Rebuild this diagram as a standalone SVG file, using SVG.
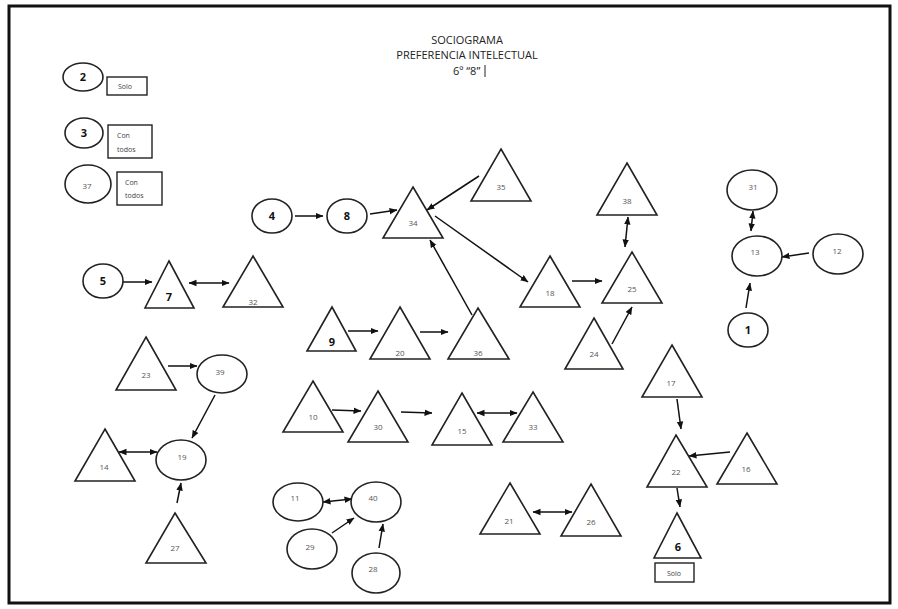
<svg xmlns="http://www.w3.org/2000/svg" width="898" height="609" viewBox="0 0 898 609">
<defs>
<marker id="ah" markerUnits="userSpaceOnUse" markerWidth="8" markerHeight="8" viewBox="0 0 8 8" refX="7.5" refY="4" orient="auto-start-reverse">
<path d="M0,0.8 L8,4 L0,7.2 Z" fill="#111"/>
</marker>
</defs>
<style>
.n{fill:#fff;stroke:#222;stroke-width:1.6}
.b{fill:#fff;stroke:#222;stroke-width:1.4}
.t{font-family:"Open Sans","Liberation Sans",sans-serif;font-size:8px;fill:#555;text-anchor:middle}
.tb{font-family:"Open Sans","Liberation Sans",sans-serif;font-size:11px;font-weight:bold;fill:#111;text-anchor:middle}
.tl{font-family:"Open Sans","Liberation Sans",sans-serif;font-size:7px;fill:#444}
.title{font-family:"Open Sans","Liberation Sans",sans-serif;font-size:11px;fill:#222;text-anchor:middle}
.e{stroke:#111;stroke-width:1.5;fill:none;marker-end:url(#ah)}
.d{stroke:#111;stroke-width:1.5;fill:none;marker-end:url(#ah);marker-start:url(#ah)}
</style>
<rect x="0" y="0" width="898" height="609" fill="#fff"/>
<rect x="9" y="6" width="881" height="597" fill="none" stroke="#111" stroke-width="3"/>
<g id="title">
<text class="title" x="467" y="44">SOCIOGRAMA</text>
<text class="title" x="467" y="59">PREFERENCIA INTELECTUAL</text>
<text class="title" x="453" y="75" style="text-anchor:start">6º “8”</text>
<line x1="485" y1="65" x2="485" y2="77" stroke="#222" stroke-width="1"/>
</g>
<g id="legend">
<g id="n2"><ellipse class="n" cx="83" cy="77" rx="20" ry="14"/><text class="tb" x="83" y="81">2</text></g>
<g id="l2"><rect class="b" x="107" y="77" width="40" height="18"/><text class="tl" x="118" y="89">Solo</text></g>
<g id="n3"><ellipse class="n" cx="84" cy="133" rx="19" ry="15"/><text class="tb" x="84" y="137">3</text></g>
<g id="l3"><rect class="b" x="108" y="125" width="44" height="33"/><text class="tl" x="117" y="138">Con</text><text class="tl" x="117" y="152">todos</text></g>
<g id="n37"><ellipse class="n" cx="88" cy="184" rx="23" ry="19"/><text class="t" x="87" y="189">37</text></g>
<g id="l37"><rect class="b" x="117" y="172" width="45" height="33"/><text class="tl" x="125" y="185">Con</text><text class="tl" x="125" y="198">todos</text></g>
</g>
<g id="connectors">
<line class="e" x1="295" y1="216" x2="323" y2="216"/>
<line class="e" x1="370" y1="214" x2="397" y2="210"/>
<line class="e" x1="479" y1="176" x2="427" y2="210"/>
<line class="e" x1="435" y1="216" x2="528" y2="282"/>
<line class="e" x1="472" y1="315" x2="430" y2="240"/>
<line class="e" x1="123" y1="282" x2="152" y2="282"/>
<line class="d" x1="189" y1="283" x2="229" y2="283"/>
<line class="e" x1="348" y1="331" x2="378" y2="331"/>
<line class="e" x1="420" y1="332" x2="448" y2="332"/>
<line class="d" x1="628" y1="217" x2="625" y2="247"/>
<line class="e" x1="572" y1="281" x2="602" y2="281"/>
<line class="e" x1="612" y1="344" x2="632" y2="307"/>
<line class="d" x1="753" y1="211" x2="751" y2="231"/>
<line class="e" x1="809" y1="253" x2="782" y2="257"/>
<line class="e" x1="746" y1="308" x2="750" y2="283"/>
<line class="e" x1="168" y1="366" x2="197" y2="366"/>
<line class="e" x1="215" y1="395" x2="192" y2="438"/>
<line class="d" x1="119" y1="452" x2="157" y2="452"/>
<line class="e" x1="177" y1="503" x2="181" y2="483"/>
<line class="e" x1="332" y1="410" x2="361" y2="411"/>
<line class="e" x1="401" y1="412" x2="432" y2="413"/>
<line class="d" x1="477" y1="413" x2="517" y2="413"/>
<line class="d" x1="323" y1="502" x2="352" y2="499"/>
<line class="e" x1="332" y1="533" x2="354" y2="518"/>
<line class="e" x1="379" y1="548" x2="383" y2="524"/>
<line class="d" x1="533" y1="512" x2="572" y2="512"/>
<line class="e" x1="677" y1="399" x2="681" y2="429"/>
<line class="e" x1="730" y1="452" x2="689" y2="456"/>
<line class="e" x1="677" y1="488" x2="680" y2="507"/>
</g>
<g id="n4"><ellipse class="n" cx="272" cy="216" rx="20" ry="17"/><text class="tb" x="272" y="220">4</text></g>
<g id="n8"><ellipse class="n" cx="347" cy="216" rx="20" ry="17"/><text class="tb" x="347" y="220">8</text></g>
<g id="n34"><polygon class="n" points="413,187 443,238 383,238"/><text class="t" x="413" y="226">34</text></g>
<g id="n35"><polygon class="n" points="501,149 531,201 471,201"/><text class="t" x="501" y="190">35</text></g>
<g id="n5"><ellipse class="n" cx="103" cy="281" rx="20" ry="17"/><text class="tb" x="103" y="285">5</text></g>
<g id="n7"><polygon class="n" points="169,261 194,308 145,308"/><text class="tb" x="169" y="301">7</text></g>
<g id="n32"><polygon class="n" points="253,256 283,307 223,307"/><text class="t" x="253" y="305">32</text></g>
<g id="n9"><polygon class="n" points="332,307 356,351 307,351"/><text class="tb" x="332" y="346">9</text></g>
<g id="n20"><polygon class="n" points="400,307 430,359 370,359"/><text class="t" x="400" y="356">20</text></g>
<g id="n36"><polygon class="n" points="478,308 509,359 448,359"/><text class="t" x="478" y="356">36</text></g>
<g id="n38"><polygon class="n" points="627,163 657,215 597,215"/><text class="t" x="627" y="204">38</text></g>
<g id="n25"><polygon class="n" points="632,252 662,303 602,303"/><text class="t" x="632" y="292">25</text></g>
<g id="n18"><polygon class="n" points="550,256 580,307 520,307"/><text class="t" x="550" y="296">18</text></g>
<g id="n24"><polygon class="n" points="594,318 623,369 565,369"/><text class="t" x="594" y="357">24</text></g>
<g id="n31"><ellipse class="n" cx="752" cy="190" rx="25" ry="20"/><text class="t" x="753" y="190">31</text></g>
<g id="n13"><ellipse class="n" cx="757" cy="256" rx="25" ry="20"/><text class="t" x="755" y="255">13</text></g>
<g id="n12"><ellipse class="n" cx="838" cy="254" rx="25" ry="20"/><text class="t" x="837" y="254">12</text></g>
<g id="n1"><ellipse class="n" cx="748" cy="330" rx="20" ry="17"/><text class="tb" x="748" y="334">1</text></g>
<g id="n23"><polygon class="n" points="146,337 176,390 116,390"/><text class="t" x="146" y="378">23</text></g>
<g id="n39"><ellipse class="n" cx="222" cy="374" rx="25" ry="19"/><text class="t" x="220" y="375">39</text></g>
<g id="n19"><ellipse class="n" cx="181" cy="460" rx="25" ry="20"/><text class="t" x="182" y="460">19</text></g>
<g id="n14"><polygon class="n" points="105,429 135,481 75,481"/><text class="t" x="104" y="470">14</text></g>
<g id="n27"><polygon class="n" points="175,513 206,563 146,563"/><text class="t" x="175" y="551">27</text></g>
<g id="n10"><polygon class="n" points="313,381 343,432 283,432"/><text class="t" x="313" y="420">10</text></g>
<g id="n30"><polygon class="n" points="378,391 408,442 348,442"/><text class="t" x="378" y="430">30</text></g>
<g id="n15"><polygon class="n" points="462,393 492,445 432,445"/><text class="t" x="462" y="434">15</text></g>
<g id="n33"><polygon class="n" points="533,392 563,442 503,442"/><text class="t" x="533" y="430">33</text></g>
<g id="n11"><ellipse class="n" cx="298" cy="502" rx="25" ry="19"/><text class="t" x="295" y="501">11</text></g>
<g id="n40"><ellipse class="n" cx="376" cy="502" rx="25" ry="20"/><text class="t" x="373" y="501">40</text></g>
<g id="n29"><ellipse class="n" cx="312" cy="549" rx="25" ry="20"/><text class="t" x="310" y="550">29</text></g>
<g id="n28"><ellipse class="n" cx="376" cy="573" rx="24" ry="20"/><text class="t" x="373" y="572">28</text></g>
<g id="n21"><polygon class="n" points="510,483 540,534 480,534"/><text class="t" x="509" y="524">21</text></g>
<g id="n26"><polygon class="n" points="591,484 621,536 561,536"/><text class="t" x="591" y="525">26</text></g>
<g id="n17"><polygon class="n" points="672,345 702,397 642,397"/><text class="t" x="671" y="386">17</text></g>
<g id="n22"><polygon class="n" points="676,435 707,487 647,487"/><text class="t" x="676" y="475">22</text></g>
<g id="n16"><polygon class="n" points="747,433 777,484 717,484"/><text class="t" x="746" y="472">16</text></g>
<g id="n6"><polygon class="n" points="677,513 701,558 654,558"/><text class="tb" x="678" y="551">6</text></g>
<g id="l6"><rect class="b" x="655" y="563" width="39" height="19"/><text class="tl" x="667" y="576">Solo</text></g>
</svg>
